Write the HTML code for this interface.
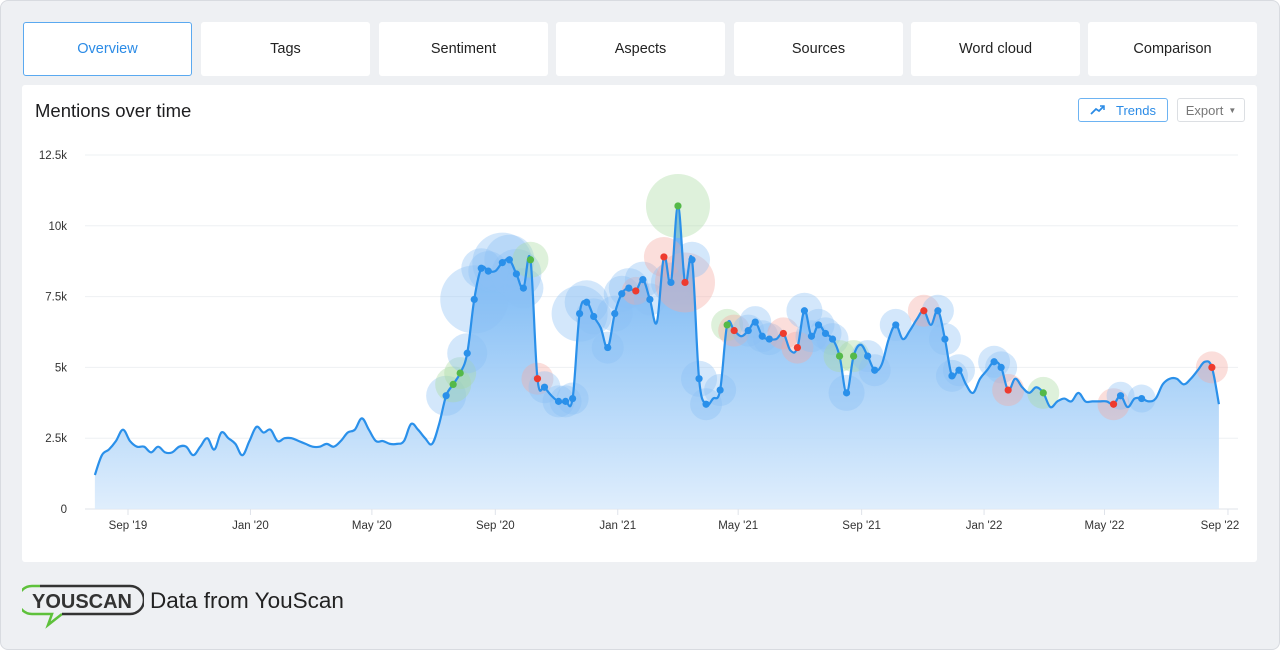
<!DOCTYPE html>
<html><head><meta charset="utf-8">
<style>
body{margin:0;width:1280px;height:650px;background:#fff;font-family:"Liberation Sans",Arial,sans-serif;overflow:hidden}
#frame{position:absolute;left:0;top:0;width:1278px;height:648px;background:#eef0f3;border:1px solid #d8dbe0;border-radius:8px}
.tab{position:absolute;top:22px;height:54px;width:169px;background:#fff;border-radius:3px;display:flex;align-items:center;justify-content:center;font-size:14.5px;color:#222;box-sizing:border-box}
.tab.active{border:1.5px solid #5aa9f0;color:#2b8be6}
#card{position:absolute;left:22px;top:85px;width:1235px;height:477px;background:#fff;border-radius:3px}
#title{position:absolute;left:13px;top:15px;font-size:18.5px;color:#1d1d1f}
.btn{position:absolute;top:13px;height:24px;border-radius:3px;box-sizing:border-box;font-size:13px;display:flex;align-items:center;justify-content:center}
#foot{position:absolute;left:22px;top:583px;display:flex;align-items:center}
</style></head><body>
<div id="frame"></div>
<div class="tab active" style="left:23px">Overview</div>
<div class="tab" style="left:201px">Tags</div>
<div class="tab" style="left:379px">Sentiment</div>
<div class="tab" style="left:556px">Aspects</div>
<div class="tab" style="left:734px">Sources</div>
<div class="tab" style="left:911px">Word cloud</div>
<div class="tab" style="left:1088px">Comparison</div>
<div id="card">
<div id="title">Mentions over time</div>
<div class="btn" style="left:1056px;width:90px;border:1.5px solid #6db3f2;color:#2b8be6"><svg width="16" height="10" style="margin-right:10px"><polyline points="1,9 6,4 9,6 14,1" fill="none" stroke="#2b8be6" stroke-width="1.8"/><polyline points="10,1 14,1 14,5" fill="none" stroke="#2b8be6" stroke-width="1.5"/></svg>Trends</div>
<div class="btn" style="left:1155px;width:68px;border:1px solid #dcdfe3;color:#777">Export <span style="font-size:8px;margin-left:5px">▼</span></div>
</div>
<svg id="chart" width="1280" height="650" style="position:absolute;left:0;top:0">
<defs><linearGradient id="fillg" x1="0" y1="0" x2="0" y2="1"><stop offset="0" stop-color="#5aa8f2" stop-opacity="0.95"/><stop offset="1" stop-color="#dcecfc" stop-opacity="0.9"/></linearGradient></defs>
</svg>
<div id="foot">
<svg width="122" height="46"><path d="M18,3 H10 A11,11 0 0 0 10,31 H30 L26,42 L40,31" fill="none" stroke="#5ec13b" stroke-width="2.5"/><path d="M18,3 H108 A11,11 0 0 1 108,31 H40" fill="none" stroke="#333" stroke-width="2.5"/><text x="60" y="25" text-anchor="middle" font-family="Liberation Sans" font-weight="bold" font-size="20" fill="#333">YOUSCAN</text></svg>
<span style="font-size:22.5px;color:#222;margin-left:6px;margin-top:-10px">Data from YouScan</span>
</div>
<script>
const values=[1.2,1.9,2.1,2.4,2.8,2.4,2.2,2.2,2.0,2.2,2.0,2.0,2.2,2.2,1.9,2.2,2.5,2.1,2.7,2.5,2.3,1.9,2.4,2.9,2.7,2.8,2.4,2.5,2.5,2.4,2.3,2.2,2.2,2.3,2.2,2.4,2.7,2.8,3.2,2.8,2.4,2.4,2.3,2.3,2.4,3.0,2.8,2.5,2.3,3.0,4.0,4.4,4.8,5.5,7.4,8.5,8.4,8.4,8.7,8.8,8.3,7.8,8.8,4.6,4.3,4.0,3.8,3.8,3.9,6.9,7.3,6.8,6.4,5.7,6.9,7.6,7.8,7.7,8.1,7.4,6.6,8.9,8.0,10.7,8.0,8.8,4.6,3.7,3.9,4.2,6.5,6.3,6.1,6.3,6.6,6.1,6.0,6.0,6.2,5.6,5.7,7.0,6.1,6.5,6.2,6.0,5.4,4.1,5.4,5.8,5.4,4.9,5.1,6.0,6.5,6.0,6.3,6.7,7.0,6.5,7.0,6.0,4.7,4.9,4.4,4.1,4.6,4.9,5.2,5.0,4.2,4.6,4.3,4.1,4.3,4.1,3.6,3.8,3.9,3.8,4.1,3.8,3.8,3.8,3.8,3.7,4.0,3.6,3.9,3.9,3.8,3.9,4.4,4.6,4.6,4.4,4.6,4.9,5.2,5.0,3.7];
const startDate=new Date(2019,6,30);
const dotIdx=[50,51,52,53,54,55,56,58,59,60,61,62,63,64,66,67,68,69,70,71,73,74,75,76,77,78,79,81,82,83,84,85,86,87,89,90,91,93,94,95,96,98,100,101,102,103,104,105,106,107,108,110,111,114,118,120,121,122,123,128,129,130,135,145,146,149,159];
const dotType=['b','g','g','b','b','b','b','b','b','b','b','g','r','b','b','b','b','b','b','b','b','b','b','b','r','b','b','r','b','g','r','b','b','b','b','g','r','b','b','b','b','r','r','b','b','b','b','b','g','b','g','b','b','b','r','b','b','b','b','b','b','r','g','r','b','b','r'];
const dotSize=[20,18,16,20,34,20,20,30,25,25,20,18,16,16,16,16,16,28,22,18,16,18,18,20,14,18,16,20,20,32,30,18,18,16,16,16,16,16,16,16,16,16,16,18,16,16,16,16,16,18,16,16,16,16,16,16,16,16,16,16,16,16,16,16,14,14,16];
const yTicks=[0,2.5,5,7.5,10,12.5];
const yTickLabels=['0','2.5k','5k','7.5k','10k','12.5k'];
const xTickDates=[[2019,8],[2020,0],[2020,4],[2020,8],[2021,0],[2021,4],[2021,8],[2022,0],[2022,4],[2022,8]];
const xTickLabels=["Sep '19","Jan '20","May '20","Sep '20","Jan '21","May '21","Sep '21","Jan '22","May '22","Sep '22"];

const svg=document.getElementById('chart');const NS='http://www.w3.org/2000/svg';
const ref=new Date(2019,8,1);
function xs(d){return 128+(d-ref)/86400000*1.0036;}
function ys(v){return 509-v/12.5*354;}
function dateAt(i){return new Date(startDate.getTime()+i*7*86400000);}
function mk(t,a){const e=document.createElementNS(NS,t);for(const k in a)e.setAttribute(k,a[k]);svg.appendChild(e);return e;}
yTicks.forEach((v,i)=>{const l=mk('line',{x1:85,x2:1238,y1:ys(v),y2:ys(v),stroke:i==0?'#dfe3ea':'#eef0f3','stroke-width':1});


const t=mk('text',{x:67,y:ys(v)+4,'text-anchor':'end','font-size':11.5,fill:'#333','font-family':'Liberation Sans'});t.textContent=yTickLabels[i];

});
xTickDates.forEach((d,i)=>{const x=xs(new Date(d[0],d[1],1));
const l=mk('line',{x1:x,x2:x,y1:509,y2:515,stroke:'#dfe3ea'});


const tx=Math.min(x,1220);
const t=mk('text',{x:tx,y:529,'text-anchor':'middle','font-size':11.5,fill:'#333','font-family':'Liberation Sans'});t.textContent=xTickLabels[i];

});
const pts=values.map((v,i)=>[xs(dateAt(i)),ys(v)]);
function smooth(p){let d='M'+p[0][0]+','+p[0][1];for(let i=0;i<p.length-1;i++){const p0=p[i-1]||p[i],p1=p[i],p2=p[i+1],p3=p[i+2]||p2;const t=0.18;
d+=' C'+(p1[0]+(p2[0]-p0[0])*t)+','+(p1[1]+(p2[1]-p0[1])*t)+' '+(p2[0]-(p3[0]-p1[0])*t)+','+(p2[1]-(p3[1]-p1[1])*t)+' '+p2[0]+','+p2[1];}return d;}
const line=smooth(pts);
const area=mk('path',{d:line+' L'+pts[pts.length-1][0]+',509 L'+pts[0][0]+',509 Z',fill:'url(#fillg)'});


const bcol={b:'#8cc1f5',g:'#a8dba0',r:'#f5a8a0'},dcol={b:'#2a90ea',g:'#55b948',r:'#ee3b2e'};
dotIdx.forEach((idx,k)=>{const b=mk('circle',{cx:pts[idx][0],cy:pts[idx][1],r:dotSize[k],fill:bcol[dotType[k]],'fill-opacity':0.38});

});
const ln=mk('path',{d:line,fill:'none',stroke:'#2a90ea','stroke-width':2.2});


dotIdx.forEach((idx,k)=>{const c=mk('circle',{cx:pts[idx][0],cy:pts[idx][1],r:3.6,fill:dcol[dotType[k]]});

});
</script>
</body></html>
